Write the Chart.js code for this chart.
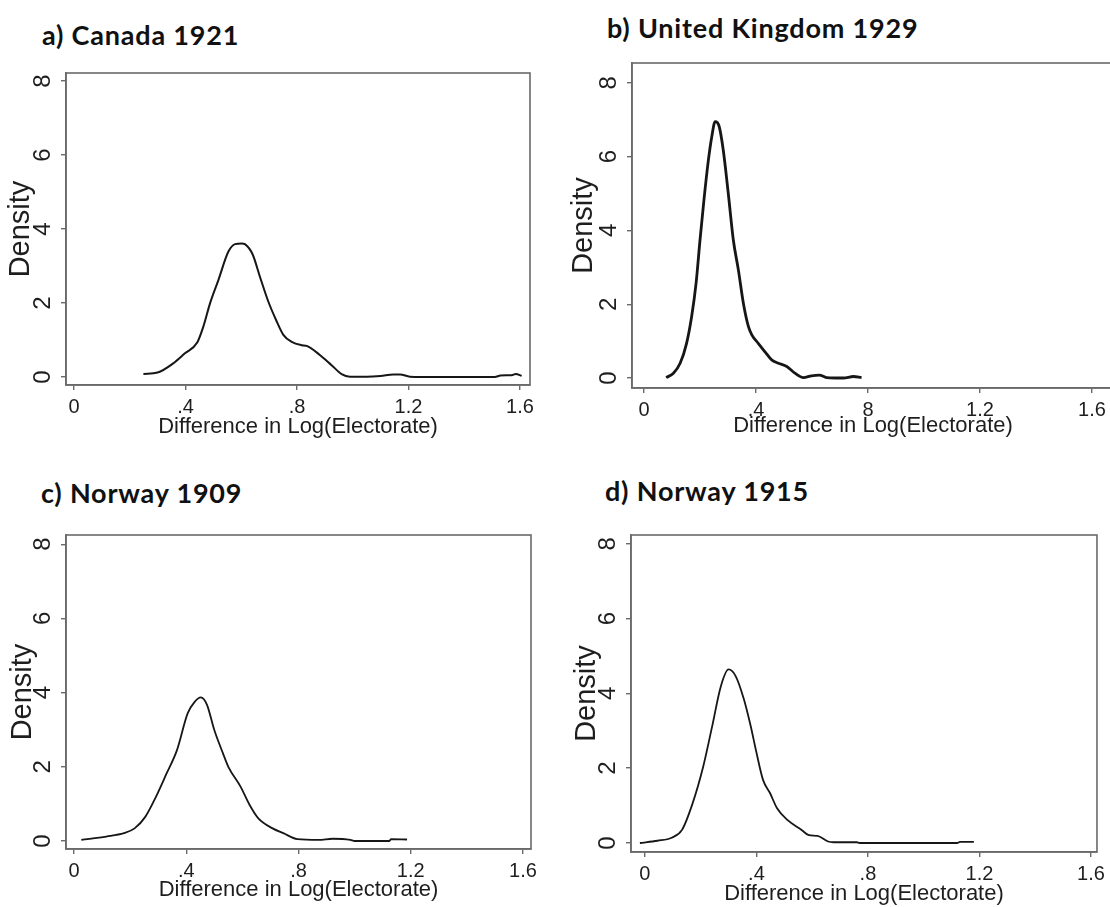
<!DOCTYPE html>
<html><head><meta charset="utf-8">
<script src="https://cdn.jsdelivr.net/npm/chart.js@4.4.1/dist/chart.umd.min.js"></script>
<style>
html,body{margin:0;padding:0;background:#fff;width:1110px;height:907px;overflow:hidden;position:relative}
canvas{position:absolute}
.ttl{position:absolute;font-family:Lato,"Open Sans",sans-serif;font-weight:700;font-size:27px;letter-spacing:0.8px;line-height:32px;color:#111;white-space:nowrap}
</style></head><body>
<div class="ttl" style="left:42px;top:19px">a) Canada 1921</div>
<div class="ttl" style="left:607px;top:12px">b) United Kingdom 1929</div>
<div class="ttl" style="left:41px;top:477px">c) Norway 1909</div>
<div class="ttl" style="left:605px;top:475px">d) Norway 1915</div>
<canvas id="pa" width="555" height="450" style="left:0;top:0"></canvas>
<canvas id="pb" width="570" height="450" style="left:555px;top:0"></canvas>
<canvas id="pc" width="555" height="457" style="left:0;top:450px"></canvas>
<canvas id="pd" width="555" height="457" style="left:555px;top:450px"></canvas>
<script>
// Tick values and labels
const xTickValues = [0, 0.4, 0.8, 1.2, 1.6];
const xTickLabels = ['0', '.4', '.8', '1.2', '1.6'];
const xTickLabelsUK = ['0', '.4', '8', '1.2', '1.6'];
const yTickValues = [0, 2, 4, 6, 8];
const yTickLabels = ['0', '2', '4', '6', '8'];
const xAxisTitle = 'Difference in Log(Electorate)';
const yAxisTitle = 'Density';

// a) Canada 1921
const xCanada = [0.249,0.300,0.356,0.398,0.442,0.464,0.488,0.518,0.554,0.578,0.602,0.613,0.641,0.667,0.697,0.725,0.751,0.781,0.817,0.835,0.883,0.924,0.960,0.990,1.050,1.100,1.145,1.170,1.205,1.300,1.400,1.510,1.530,1.570,1.585,1.606];
const densityCanada = [0.08,0.12,0.37,0.64,0.93,1.36,1.99,2.62,3.39,3.59,3.61,3.59,3.31,2.71,2.04,1.54,1.14,0.95,0.86,0.84,0.59,0.32,0.08,0.01,0.01,0.03,0.07,0.07,0.01,0.00,0.00,0.00,0.04,0.05,0.08,0.03];

// b) United Kingdom 1929
const xUK = [0.079,0.105,0.129,0.152,0.170,0.186,0.200,0.214,0.230,0.242,0.254,0.268,0.283,0.301,0.319,0.337,0.355,0.373,0.385,0.408,0.432,0.456,0.480,0.510,0.539,0.569,0.598,0.626,0.652,0.682,0.712,0.748,0.777];
const densityUK = [0.01,0.13,0.40,0.94,1.66,2.57,3.74,4.82,5.91,6.54,6.95,6.83,6.18,5.00,3.74,2.93,2.02,1.39,1.17,0.94,0.71,0.49,0.40,0.31,0.13,0.01,0.06,0.08,0.01,0.00,0.00,0.04,0.01];

// c) Norway 1909
const xNorway1909 = [0.026,0.115,0.178,0.216,0.254,0.292,0.330,0.367,0.405,0.430,0.452,0.474,0.500,0.531,0.550,0.594,0.626,0.657,0.708,0.746,0.796,0.872,0.922,0.985,1.000,1.124,1.130,1.187];
const densityNorway1909 = [0.03,0.12,0.21,0.34,0.65,1.19,1.82,2.45,3.44,3.75,3.87,3.67,2.99,2.36,2.00,1.46,0.97,0.61,0.34,0.21,0.05,0.03,0.06,0.03,0.00,0.00,0.05,0.04];

// d) Norway 1915
const xNorway1915 = [-0.018,0.045,0.096,0.133,0.171,0.209,0.241,0.272,0.300,0.325,0.354,0.380,0.398,0.424,0.449,0.474,0.512,0.562,0.588,0.619,0.657,0.676,0.760,0.770,1.120,1.130,1.180];
const densityNorway1915 = [0.00,0.06,0.14,0.35,1.06,2.04,3.11,4.18,4.64,4.47,3.87,3.11,2.49,1.68,1.33,0.93,0.61,0.35,0.21,0.19,0.04,0.02,0.02,0.00,0.00,0.03,0.03];

const frame = {
  id: 'frame',
  afterDraw(chart) {
    const {ctx, chartArea: a} = chart;
    ctx.save();
    ctx.strokeStyle = '#6a6a6a';
    ctx.lineWidth = 1.6;
    ctx.strokeRect(a.left, a.top, a.right - a.left, a.bottom - a.top);
    ctx.restore();
  }
};

const FONT = '"Liberation Sans", Arial, sans-serif';

function panel(id, xs, ys, xLabels, g) {
  new Chart(document.getElementById(id), {
    type: 'line',
    data: { datasets: [{
      data: xs.map((x, i) => ({x: x, y: ys[i]})),
      borderColor: '#161616', borderWidth: g.lw, pointRadius: 0,
      cubicInterpolationMode: 'monotone', fill: false
    }]},
    options: {
      responsive: false, animation: false, events: [],
      layout: { padding: { left: 0, top: g.top, right: g.right, bottom: 0 } },
      plugins: { legend: { display: false }, tooltip: { enabled: false } },
      scales: {
        x: {
          type: 'linear', position: 'bottom', min: g.xmin, max: g.xmax,
          afterBuildTicks: s => { s.ticks = xTickValues.map(v => ({value: v})); },
          afterFit: s => { s.height = g.xh; },
          ticks: { autoSkip: false, minRotation: 0, maxRotation: 0, padding: 5, color: '#1e1e1e',
                   font: { family: FONT, size: 20 }, callback: (v, i) => xLabels[i] },
          grid: { drawOnChartArea: false, drawTicks: true, tickLength: 5, color: '#6a6a6a', lineWidth: 1.4 },
          border: { display: true, color: '#6a6a6a', width: 1.6 },
          title: { display: true, text: xAxisTitle, color: '#1e1e1e', font: { family: FONT, size: 22 },
                   padding: { top: 0, bottom: g.xtp } }
        },
        y: {
          type: 'linear', position: 'left', min: g.ymin, max: g.ymax,
          afterBuildTicks: s => { s.ticks = yTickValues.map(v => ({value: v})); },
          afterFit: s => { s.width = g.yw; },
          ticks: { autoSkip: false, minRotation: 90, maxRotation: 90, crossAlign: 'center', padding: 11, color: '#1e1e1e',
                   font: { family: FONT, size: 24 }, callback: (v, i) => yTickLabels[i] },
          grid: { drawOnChartArea: false, drawTicks: true, tickLength: 5, color: '#6a6a6a', lineWidth: 1.4 },
          border: { display: true, color: '#6a6a6a', width: 1.6 },
          title: { display: true, text: yAxisTitle, color: '#1e1e1e', font: { family: FONT, size: 29 },
                   padding: { top: g.ytp, bottom: 0 } }
        }
      }
    },
    plugins: [frame]
  });
}

panel('pa', xCanada, densityCanada, xTickLabels,
  { lw: 2.0, top: 73, right: 25, yw: 66, xh: 65, xmin: -0.0287, xmax: 1.6359, ymin: -0.216, ymax: 8.216, xtp: 9.5, ytp: 4 });
panel('pb', xUK, densityUK, xTickLabelsUK,
  { lw: 2.8, top: 63, right: 11, yw: 77, xh: 62, xmin: -0.0429, xmax: 1.6786, ymin: -0.271, ymax: 8.537, xtp: 11, ytp: 11.5 });
panel('pc', xNorway1909, densityNorway1909, xTickLabels,
  { lw: 1.8, top: 85, right: 24, yw: 66, xh: 58, xmin: -0.0285, xmax: 1.6287, ymin: -0.216, ymax: 8.248, xtp: 3.5, ytp: 6 });
panel('pd', xNorway1915, densityNorway1915, xTickLabels,
  { lw: 1.8, top: 85, right: 10, yw: 76, xh: 55, xmin: -0.0499, xmax: 1.6215, ymin: -0.241, ymax: 8.235, xtp: 0, ytp: 15 });
</script>
</body></html>
